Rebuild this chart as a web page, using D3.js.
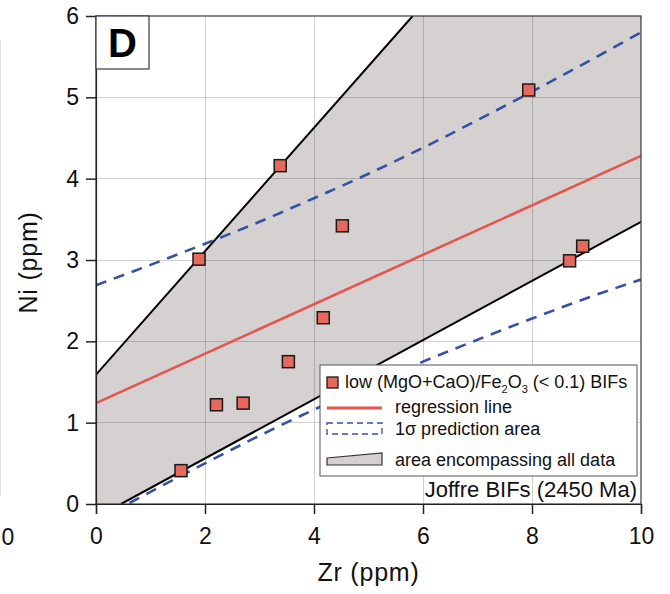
<!DOCTYPE html>
<html>
<head>
<meta charset="utf-8">
<script src="https://cdn.jsdelivr.net/npm/d3@7"></script>
<style>
  html, body { margin: 0; padding: 0; background: #fff; }
  svg { display: block; font-family: "Liberation Sans", Arial, Helvetica, sans-serif; }
</style>
</head>
<body>
<svg id="chart" width="670" height="594"></svg>
<script>
// ---- Data ----
const zr = [1.56, 1.89, 2.21, 2.70, 3.38, 3.53, 4.17, 4.52, 7.94, 8.69, 8.93];
const ni = [0.41, 3.01, 1.22, 1.24, 4.16, 1.75, 2.29, 3.42, 5.09, 2.99, 3.17];

const regressionLine = [[0, 1.24], [10, 4.28]];
const bandX     = [0, 1, 2, 3, 4, 5, 6, 7, 8, 9, 10];
const bandUpper = [2.69, 2.94, 3.20, 3.47, 3.76, 4.06, 4.38, 4.72, 5.07, 5.43, 5.80];
const bandLower = [-0.21, 0.15, 0.50, 0.84, 1.16, 1.46, 1.75, 2.02, 2.28, 2.53, 2.76];

const envelopeUpper = [[0, 1.59], [5.81, 6]];
const envelopeLower = [[0.46, 0], [10, 3.47]];

const xTicks = [0, 2, 4, 6, 8, 10];
const yTicks = [0, 1, 2, 3, 4, 5, 6];
const xGrid = [2, 4, 6, 8];
const yGrid = [1, 2, 3, 4, 5];

// ---- Layout ----
const svg = d3.select("#chart");
const L = 96, R = 641, T = 16, B = 504;
const x = d3.scaleLinear().domain([0, 10]).range([L, R]);
const y = d3.scaleLinear().domain([0, 6]).range([B, T]);

const fillGray = "#d5d1d1";
const markerFill = "#e6695e";
const redLine = "#e4564f";
const blue = "#3551a4";

svg.append("defs").append("clipPath").attr("id", "plotClip")
  .append("rect").attr("x", L).attr("y", T).attr("width", R - L).attr("height", B - T);

// stray remnants at the left edge
svg.append("line").attr("x1", 0.5).attr("x2", 0.5).attr("y1", 40).attr("y2", 496)
  .attr("stroke", "#e2e2e2").attr("stroke-width", 1);
svg.append("text").attr("x", 8).attr("y", 545).attr("text-anchor", "middle")
  .attr("font-size", 23).attr("fill", "#111").text("0");

const plot = svg.append("g").attr("clip-path", "url(#plotClip)");

// envelope polygon
const [xd0, xd1] = x.domain(), [yd0, yd1] = y.domain();
const poly = [[xd0, yd0], envelopeUpper[0], envelopeUpper[1], [xd1, yd1], envelopeLower[1], envelopeLower[0]];
plot.append("path")
  .attr("d", d3.line().x(d => x(d[0])).y(d => y(d[1]))(poly) + "Z")
  .attr("fill", fillGray).attr("stroke", "none");

// gridlines
plot.selectAll(".gx").data(xGrid).join("line")
  .attr("x1", d => x(d)).attr("x2", d => x(d)).attr("y1", T).attr("y2", B)
  .attr("stroke", "rgba(0,0,0,0.18)").attr("stroke-width", 1).attr("shape-rendering", "crispEdges");
plot.selectAll(".gy").data(yGrid).join("line")
  .attr("x1", L).attr("x2", R).attr("y1", d => y(d)).attr("y2", d => y(d))
  .attr("stroke", "rgba(0,0,0,0.18)").attr("stroke-width", 1).attr("shape-rendering", "crispEdges");

const line = d3.line().x(d => x(d[0])).y(d => y(d[1]));

// envelope boundary lines
plot.append("path").attr("d", line(envelopeUpper)).attr("stroke", "#000").attr("stroke-width", 2).attr("fill", "none");
plot.append("path").attr("d", line(envelopeLower)).attr("stroke", "#000").attr("stroke-width", 2).attr("fill", "none");

// prediction band
const bandLine = d3.line().x(d => x(d[0])).y(d => y(d[1])).curve(d3.curveMonotoneX);
[bandUpper, bandLower].forEach(arr => {
  plot.append("path").attr("d", bandLine(bandX.map((v, i) => [v, arr[i]])))
    .attr("stroke", blue).attr("stroke-width", 2.6).attr("fill", "none")
    .attr("stroke-dasharray", "11,8");
});

// regression line
plot.append("path").attr("d", line(regressionLine)).attr("stroke", redLine).attr("stroke-width", 2.6).attr("fill", "none");

// points
const S = 12;
plot.selectAll(".pt").data(zr.map((v, i) => [v, ni[i]])).join("rect")
  .attr("x", d => x(d[0]) - S / 2).attr("y", d => y(d[1]) - S / 2)
  .attr("width", S).attr("height", S)
  .attr("fill", markerFill).attr("stroke", "#1a1a1a").attr("stroke-width", 1.5);

// frame
svg.append("rect").attr("x", L).attr("y", T).attr("width", R - L).attr("height", B - T)
  .attr("fill", "none").attr("stroke", "#3a3a3a").attr("stroke-width", 1.2);

// axes
const yAxis = svg.append("g").attr("transform", `translate(${L},0)`)
  .call(d3.axisLeft(y).tickValues(yTicks).tickSize(10).tickPadding(7).tickFormat(d3.format("d")));
const xAxis = svg.append("g").attr("transform", `translate(0,${B})`)
  .call(d3.axisBottom(x).tickValues(xTicks).tickSize(10).tickPadding(14).tickFormat(d3.format("d")));
[yAxis, xAxis].forEach(g => {
  g.select(".domain").attr("stroke", "#222").attr("stroke-width", 1.2);
  g.selectAll(".tick line").attr("stroke", "#222").attr("stroke-width", 1.5);
  g.selectAll(".tick text").attr("font-size", 23).attr("fill", "#111")
    .attr("font-family", "'Liberation Sans', Arial, sans-serif");
});

// axis titles
svg.append("text").attr("x", x(5)).attr("y", 581).attr("text-anchor", "middle")
  .attr("font-size", 25).attr("letter-spacing", 0.8).attr("fill", "#111").text("Zr (ppm)");
svg.append("text").attr("transform", `translate(37,${y(2.97)}) rotate(-90)`).attr("text-anchor", "middle")
  .attr("font-size", 25).attr("letter-spacing", 0.8).attr("fill", "#111").text("Ni (ppm)");

// panel label
svg.append("rect").attr("x", L).attr("y", T).attr("width", 53).attr("height", 53)
  .attr("fill", "#fff").attr("stroke", "#3a3a3a").attr("stroke-width", 1.2);
svg.append("text").attr("x", L + 26.5).attr("y", 57).attr("text-anchor", "middle")
  .attr("font-size", 40).attr("font-weight", "bold").attr("fill", "#000").text("D");

// legend
const lg = svg.append("g");
lg.append("rect").attr("x", 320).attr("y", 365).attr("width", 317).attr("height", 111)
  .attr("fill", "#fff").attr("stroke", "#555").attr("stroke-width", 1);
lg.append("rect").attr("x", 327).attr("y", 377).attr("width", 11).attr("height", 11)
  .attr("fill", markerFill).attr("stroke", "#1a1a1a").attr("stroke-width", 1.3);
const t1 = lg.append("text").attr("x", 345).attr("y", 388).attr("font-size", 18).attr("fill", "#111");
t1.append("tspan").text("low (MgO+CaO)/Fe");
t1.append("tspan").attr("font-size", 11).attr("dy", 5).text("2");
t1.append("tspan").attr("dy", -5).text("O");
t1.append("tspan").attr("font-size", 11).attr("dy", 5).text("3");
t1.append("tspan").attr("dy", -5).text(" (< 0.1) BIFs");

lg.append("line").attr("x1", 327).attr("x2", 382).attr("y1", 408).attr("y2", 408)
  .attr("stroke", redLine).attr("stroke-width", 3);
lg.append("text").attr("x", 395).attr("y", 413).attr("font-size", 18).attr("fill", "#111").text("regression line");

lg.append("rect").attr("x", 327).attr("y", 423).attr("width", 55).attr("height", 11)
  .attr("fill", "none").attr("stroke", blue).attr("stroke-width", 1.3).attr("stroke-dasharray", "6,4");
lg.append("text").attr("x", 395).attr("y", 435).attr("font-size", 18).attr("fill", "#111").text("1σ prediction area");

lg.append("path").attr("d", "M327,458 L382,453 L382,465 L327,465 Z")
  .attr("fill", fillGray).attr("stroke", "#333").attr("stroke-width", 1.2);
lg.append("text").attr("x", 395).attr("y", 466).attr("font-size", 18).attr("fill", "#111").text("area encompassing all data");

svg.append("text").attr("x", 637).attr("y", 497).attr("text-anchor", "end")
  .attr("font-size", 22).attr("fill", "#111").text("Joffre BIFs (2450 Ma)");
</script>
</body>
</html>
